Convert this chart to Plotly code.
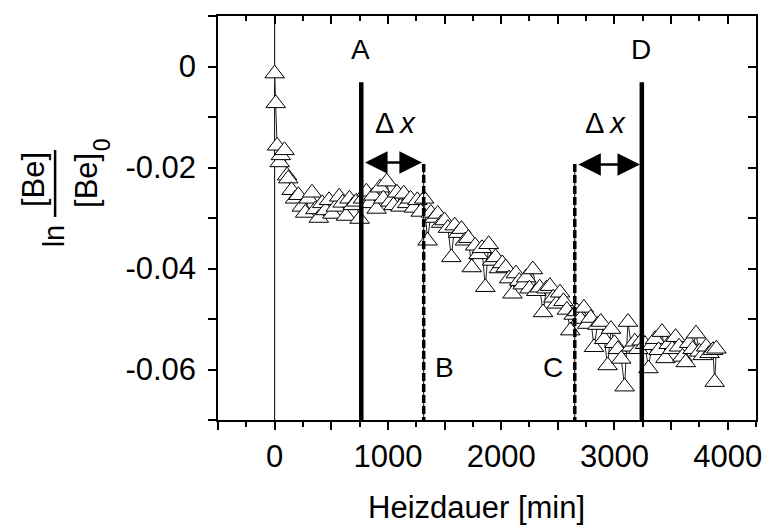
import plotly.graph_objects as go

# ---------------- data ----------------
time_min = [0, 10, 22, 45, 55, 87, 110,
            120, 150, 180, 210, 240, 270, 300, 330, 360, 390,
            420, 450, 480, 510, 540, 570, 600, 630, 660, 690,
            720, 750, 780, 810, 840, 870, 900, 930, 960, 990,
            1020, 1050, 1080, 1110, 1140, 1170, 1200, 1230, 1260, 1290,
            1320, 1350, 1380, 1410, 1440, 1470, 1500, 1530, 1560, 1590,
            1620, 1650, 1680, 1710, 1740, 1770, 1800, 1830, 1860, 1890,
            1920, 1950, 1980, 2010, 2040, 2070, 2100, 2130, 2160, 2190,
            2220, 2250, 2280, 2310, 2340, 2370, 2400, 2430, 2460, 2490,
            2520, 2550, 2580, 2610, 2640, 2670, 2700, 2730, 2760, 2790,
            2820, 2850, 2880, 2910, 2940, 2970, 3000, 3030, 3060, 3090,
            3120, 3150, 3180, 3210, 3240, 3270, 3300, 3330, 3360, 3390,
            3420, 3450, 3480, 3510, 3540, 3570, 3600, 3630, 3660, 3690,
            3720, 3750, 3780, 3810, 3840, 3870, 3885, 3900]

ln_ratio = [-0.0014, -0.0073, -0.0157, -0.0190, -0.0176, -0.0166, -0.0216,
            -0.0222, -0.0245, -0.0262, -0.0255, -0.0278, -0.0290, -0.0262, -0.0250, -0.0283, -0.0300,
            -0.0271, -0.0285, -0.0265, -0.0292, -0.0278, -0.0258, -0.0270, -0.0296, -0.0262, -0.0275,
            -0.0268, -0.0302, -0.0262, -0.0248, -0.0271, -0.0256, -0.0282, -0.0240, -0.0262, -0.0228,
            -0.0268, -0.0275, -0.0250, -0.0278, -0.0252, -0.0271, -0.0262, -0.0280, -0.0265, -0.0288,
            -0.0262, -0.0345, -0.0290, -0.0300, -0.0292, -0.0310, -0.0305, -0.0320, -0.0378, -0.0315,
            -0.0330, -0.0322, -0.0345, -0.0340, -0.0398, -0.0355, -0.0372, -0.0360, -0.0437, -0.0352,
            -0.0385, -0.0378, -0.0400, -0.0390, -0.0398, -0.0420, -0.0450, -0.0410, -0.0425, -0.0432,
            -0.0418, -0.0440, -0.0402, -0.0445, -0.0438, -0.0487, -0.0440, -0.0435, -0.0458, -0.0470,
            -0.0448, -0.0465, -0.0482, -0.0523, -0.0492, -0.0485, -0.0500, -0.0478, -0.0510, -0.0498,
            -0.0556, -0.0512, -0.0506, -0.0540, -0.0592, -0.0520, -0.0548, -0.0560, -0.0579, -0.0634,
            -0.0506, -0.0555, -0.0545, -0.0560, -0.0543, -0.0550, -0.0598, -0.0552, -0.0540, -0.0562,
            -0.0526, -0.0578, -0.0550, -0.0560, -0.0536, -0.0555, -0.0575, -0.0586, -0.0548, -0.0560,
            -0.0529, -0.0565, -0.0572, -0.0555, -0.0568, -0.0562, -0.0625, -0.0559]

# marker lines A, B, C, D
mark_names = ["A", "B", "C", "D"]
mark_x = [765, 1316, 2650, 3242]
mark_top = [-0.0031, -0.0193, -0.0193, -0.0031]
mark_dashed = [False, True, True, False]

# Delta-x arrows (start, end, height)
arrow_x0 = [785, 2668]
arrow_x1 = [1300, 3226]
arrow_y = [-0.0190, -0.0194]

x_range = [-500, 4250]
y_range = [-0.07, 0.01]
x_tickvals = [-500, 0, 500, 1000, 1500, 2000, 2500, 3000, 3500, 4000]
x_ticktext = ["", "0", "", "1000", "", "2000", "", "3000", "", "4000"]
y_tickvals = [0.01, 0.0, -0.01, -0.02, -0.03, -0.04, -0.05, -0.06, -0.07]
y_ticktext = ["", "0", "", "-0.02", "", "-0.04", "", "-0.06", ""]

FONT = "Liberation Sans, Arial, sans-serif"

# plot area in pixels
L, R, T, B = 218, 762, 16, 420
W, H = 766, 527


def px(xp):
    return (xp - L) / (R - L)


def py(yp):
    return (B - yp) / (B - T)


fig = go.Figure()

# data series
fig.add_trace(go.Scatter(
    x=time_min, y=ln_ratio, mode="lines+markers",
    line=dict(color="#222", width=1),
    marker=dict(symbol="triangle-up", size=17, color="white",
                line=dict(color="black", width=1)),
    showlegend=False, hoverinfo="skip"))

# vertical marker lines
for name, xv, top, dashed in zip(mark_names, mark_x, mark_top, mark_dashed):
    if dashed:
        fig.add_trace(go.Scatter(x=[xv, xv], y=[top, y_range[0]], mode="lines",
                                 line=dict(color="black", width=1),
                                 showlegend=False, hoverinfo="skip"))
        fig.add_trace(go.Scatter(x=[xv, xv], y=[top, y_range[0]], mode="lines",
                                 line=dict(color="black", width=3.5, dash="8px,3px"),
                                 showlegend=False, hoverinfo="skip"))
    else:
        fig.add_trace(go.Scatter(x=[xv, xv], y=[top, y_range[0]], mode="lines",
                                 line=dict(color="black", width=4.5),
                                 showlegend=False, hoverinfo="skip"))

# dummy trace for mirrored (inside) axes
fig.add_trace(go.Scatter(x=[None], y=[None], xaxis="x2", yaxis="y2",
                         showlegend=False, hoverinfo="skip"))

# thin line at x = 0
fig.add_shape(type="line", xref="x", yref="paper", x0=0, x1=0, y0=0, y1=1,
              line=dict(color="black", width=1), layer="below")

annotations = []
# letter labels
label_pos = {"A": (362.5, 50), "D": (646, 50), "B": (447, 367), "C": (557, 367)}
for name in mark_names:
    xp, yp = label_pos[name]
    annotations.append(dict(text=name, xref="paper", yref="paper", x=px(xp), y=py(yp),
                            xanchor="center", yanchor="middle", showarrow=False,
                            font=dict(size=28, color="black", family=FONT)))

# Delta x labels
for xp in [397, 610]:
    annotations.append(dict(text="\u0394\u2009<i>x</i>", xref="paper", yref="paper",
                            x=px(xp), y=py(123), xanchor="center", yanchor="middle",
                            showarrow=False, font=dict(size=29, color="black", family=FONT)))

# arrows
for x0, x1, yv in zip(arrow_x0, arrow_x1, arrow_y):
    annotations.append(dict(x=x1, y=yv, ax=x0, ay=yv, xref="x", yref="y", axref="x", ayref="y",
                            text="", showarrow=True, arrowhead=2, arrowside="end+start",
                            arrowsize=1.8, arrowwidth=2.5, arrowcolor="black",
                            standoff=0, startstandoff=0))

# x axis title
annotations.append(dict(text="Heizdauer [min]", xref="paper", yref="paper",
                        x=px(479), y=py(507), xanchor="center", yanchor="middle",
                        showarrow=False, font=dict(size=31, color="black", family=FONT)))

# y axis title: ln [Be]/[Be]0 as rotated fraction
annotations.append(dict(text="ln", xref="paper", yref="paper", x=px(52.5), y=py(236),
                        xanchor="center", yanchor="middle", textangle=-90, showarrow=False,
                        font=dict(size=29, color="black", family=FONT)))
annotations.append(dict(text="[Be]", xref="paper", yref="paper", x=px(31), y=py(180),
                        xanchor="center", yanchor="middle", textangle=-90, showarrow=False,
                        font=dict(size=31, color="black", family=FONT)))
annotations.append(dict(text="[Be]", xref="paper", yref="paper", x=px(85), y=py(180.5),
                        xanchor="center", yanchor="middle", textangle=-90, showarrow=False,
                        font=dict(size=31, color="black", family=FONT)))
annotations.append(dict(text="0", xref="paper", yref="paper", x=px(101), y=py(145),
                        xanchor="center", yanchor="middle", textangle=-90, showarrow=False,
                        font=dict(size=23, color="black", family=FONT)))
fig.add_shape(type="line", xref="paper", yref="paper", x0=px(53.3), x1=px(53.3),
              y0=py(150), y1=py(217), line=dict(color="black", width=2.5))

fig.update_layout(
    width=W, height=H,
    margin=dict(l=L, r=W - R, t=T, b=H - B),
    paper_bgcolor="white", plot_bgcolor="white",
    font=dict(family=FONT, color="black"),
    annotations=annotations,
    xaxis=dict(range=x_range, tickmode="array", tickvals=x_tickvals, ticktext=x_ticktext,
               ticks="outside", ticklen=8, tickwidth=1.5, tickcolor="black",
               minor=dict(dtick=250, tick0=0, ticks="outside", ticklen=5, tickwidth=1.5,
                          tickcolor="black"),
               showline=True, linewidth=1.5, linecolor="black", showgrid=False,
               zeroline=False, tickfont=dict(size=31, family=FONT),
               ticklabeloverflow="allow"),
    yaxis=dict(range=y_range, tickmode="array", tickvals=y_tickvals, ticktext=y_ticktext,
               ticks="outside", ticklen=8, tickwidth=1.5, tickcolor="black",
               showline=True, linewidth=1.5, linecolor="black", showgrid=False,
               zeroline=False, tickfont=dict(size=31, family=FONT), ticklabelstandoff=6,
               ticklabeloverflow="allow"),
    xaxis2=dict(range=x_range, overlaying="x", side="top", tickmode="array",
                tickvals=x_tickvals, showticklabels=False,
                ticks="inside", ticklen=8, tickwidth=1.5, tickcolor="black",
                minor=dict(dtick=250, tick0=0, ticks="inside", ticklen=5, tickwidth=1.5,
                           tickcolor="black"),
                showline=True, linewidth=1.5, linecolor="black", showgrid=False, zeroline=False),
    yaxis2=dict(range=y_range, overlaying="y", side="right", tickmode="array",
                tickvals=y_tickvals, showticklabels=False,
                ticks="inside", ticklen=8, tickwidth=1.5, tickcolor="black",
                showline=True, linewidth=1.5, linecolor="black", showgrid=False, zeroline=False),
)

fig.write_html("out.html")
